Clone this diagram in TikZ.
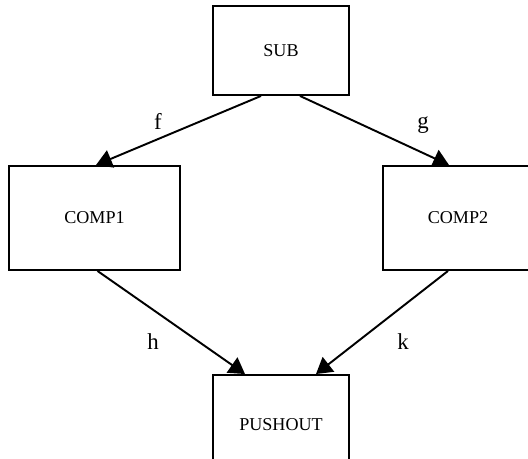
\documentclass[tikz,border=0pt]{standalone}
\usepackage{fontspec}
\setmainfont{Liberation Serif}
\usetikzlibrary{arrows.meta}

\begin{document}
\begin{tikzpicture}[x=0.02cm,y=-0.02cm,line width=1.1pt,
		objbox/.style={draw=black,fill=white,inner sep=0pt,font=\fontsize{10.3}{12}\selectfont},
		morph/.style={-{Triangle[length=9pt,width=10.5pt]}},
		lbl/.style={anchor=base,font=\fontsize{13}{15}\selectfont}]
		\useasboundingbox (0,0) rectangle (528,459);
		\clip (0,0) rectangle (528,459);

		\node[objbox,minimum width=2.72cm,minimum height=1.78cm] (sub) at (281,50.5) {SUB};
		\node[objbox,minimum width=3.42cm,minimum height=2.08cm] (comp1) at (94.5,218) {COMP1};
		\node[objbox,minimum width=3cm,minimum height=2.08cm] (comp2) at (458,218) {COMP2};
		\node[objbox,minimum width=2.72cm,minimum height=2cm] (pushout) at (281,425) {PUSHOUT};

		\draw[morph] ([xshift=-0.4cm]sub.south) -- ([xshift=0.03cm]comp1.north);
		\draw[morph] ([xshift=0.38cm]sub.south) -- ([xshift=-0.18cm]comp2.north);
		\draw[morph] ([xshift=0.06cm]comp1.south) -- ([xshift=-0.72cm]pushout.north);
		\draw[morph] ([xshift=-0.2cm]comp2.south) -- ([xshift=0.7cm]pushout.north);

		\node[lbl] (lf) at (158,130) {f};
		\node[lbl] (lg) at (423,129) {g};
		\node[lbl] (lh) at (153,350) {h};
		\node[lbl] (lk) at (403,350) {k};
	\end{tikzpicture}
\end{document}
